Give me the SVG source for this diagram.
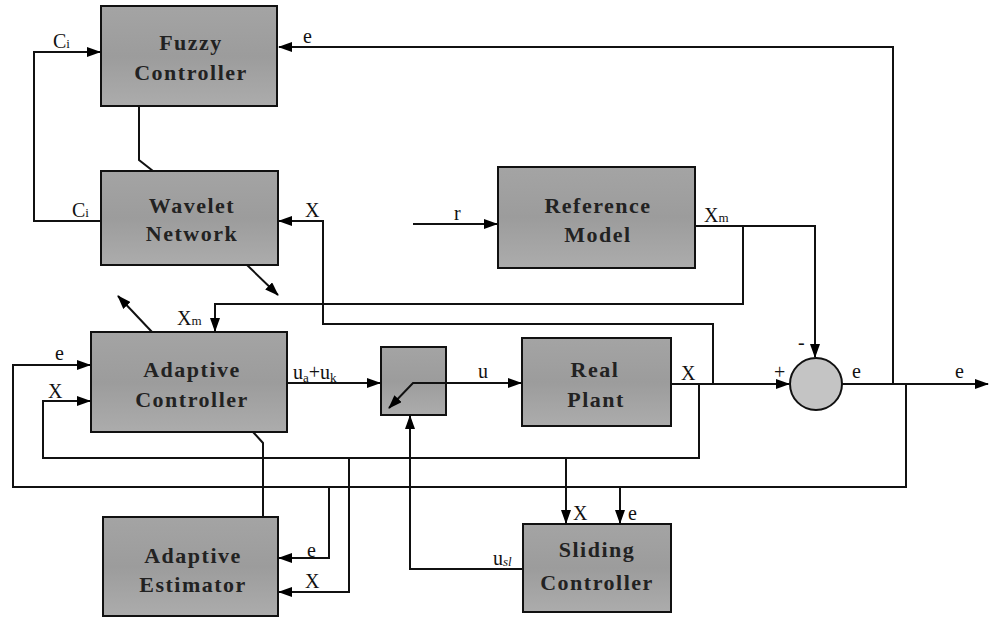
<svg xmlns="http://www.w3.org/2000/svg" width="989" height="619" viewBox="0 0 989 619">
<defs>
<marker id="arr" markerUnits="userSpaceOnUse" markerWidth="14" markerHeight="10" refX="13" refY="5" orient="auto">
<path d="M0,0 L14,5 L0,10 z" fill="#000"/>
</marker>
<linearGradient id="g" x1="0" y1="0" x2="0" y2="1">
<stop offset="0" stop-color="#a4a4a4"/>
<stop offset="0.5" stop-color="#9c9c9c"/>
<stop offset="1" stop-color="#acacac"/>
</linearGradient>
</defs>
<style>
.box{fill:url(#g);stroke:#111;stroke-width:2}
.lbl{font-family:"Liberation Serif","Times New Roman",serif;font-weight:bold;font-size:22px;letter-spacing:1.5px;fill:#222;text-anchor:middle}
.sm{font-family:"Liberation Serif","Times New Roman",serif;font-size:20px;fill:#111}
.sub{font-size:13px}
.c path{fill:none;stroke:#111;stroke-width:2}
</style>
<rect width="989" height="619" fill="#fff"/>

<g id="fuzzy">
<rect class="box" x="101" y="6" width="176" height="100"/>
<text class="lbl" x="191" y="50">Fuzzy</text>
<text class="lbl" x="191" y="80">Controller</text>
</g>
<g id="wavelet">
<rect class="box" x="101" y="171" width="177" height="94"/>
<text class="lbl" x="192" y="213">Wavelet</text>
<text class="lbl" x="192" y="241">Network</text>
</g>
<g id="reference">
<rect class="box" x="498" y="167" width="197" height="101"/>
<text class="lbl" x="598" y="213">Reference</text>
<text class="lbl" x="598" y="242">Model</text>
</g>
<g id="adaptive-controller">
<rect class="box" x="91" y="332" width="196" height="100"/>
<text class="lbl" x="192" y="377">Adaptive</text>
<text class="lbl" x="192" y="407">Controller</text>
</g>
<g id="switch">
<rect class="box" x="381" y="347" width="65" height="68"/>
</g>
<g id="plant">
<rect class="box" x="522" y="338" width="149" height="88"/>
<text class="lbl" x="595" y="377">Real</text>
<text class="lbl" x="596" y="407">Plant</text>
</g>
<g id="sum">
<circle cx="816" cy="384" r="26" fill="#c4c4c4" stroke="#111" stroke-width="2"/>
</g>
<g id="estimator">
<rect class="box" x="103" y="517" width="175" height="99"/>
<text class="lbl" x="193" y="563">Adaptive</text>
<text class="lbl" x="193" y="592">Estimator</text>
</g>
<g id="sliding">
<rect class="box" x="523" y="524" width="148" height="88"/>
<text class="lbl" x="597" y="557">Sliding</text>
<text class="lbl" x="597" y="590">Controller</text>
</g>

<g id="connectors" class="c">
<path d="M893,384 V47 H279" marker-end="url(#arr)"/>
<path d="M101,221 H34 V52 H100" marker-end="url(#arr)"/>
<path d="M139,106 V160 L153,171"/>
<path d="M247,265 L278,295" marker-end="url(#arr)"/>
<path d="M152,332 L118,296" marker-end="url(#arr)"/>
<path d="M713,384 V324 H323 V221 H279" marker-end="url(#arr)"/>
<path d="M695,226 H815 V357" marker-end="url(#arr)"/>
<path d="M743,226 V304 H215 V331" marker-end="url(#arr)"/>
<path d="M413,224 H497" marker-end="url(#arr)"/>
<path d="M287,383 H380" marker-end="url(#arr)"/>
<path d="M446,383 H413 L389,408" marker-end="url(#arr)"/>
<path d="M446,383 H521" marker-end="url(#arr)"/>
<path d="M671,384 H789" marker-end="url(#arr)"/>
<path d="M842,384 H988" marker-end="url(#arr)"/>
<path d="M906,384 V487 H13 V365 H90" marker-end="url(#arr)"/>
<path d="M699,384 V458 H43 V401 H90" marker-end="url(#arr)"/>
<path d="M253,432 L263,443 V517"/>
<path d="M329,487 V558 H279" marker-end="url(#arr)"/>
<path d="M349,458 V592 H279" marker-end="url(#arr)"/>
<path d="M566,458 V523" marker-end="url(#arr)"/>
<path d="M620,487 V523" marker-end="url(#arr)"/>
<path d="M523,569 H410 V416" marker-end="url(#arr)"/>
</g>

<g id="labels">
<text class="sm" x="53" y="48">C<tspan class="sub">i</tspan></text>
<text class="sm" x="72" y="217">C<tspan class="sub">i</tspan></text>
<text class="sm" x="303" y="43">e</text>
<text class="sm" x="305" y="217">X</text>
<text class="sm" x="177" y="325">X<tspan class="sub">m</tspan></text>
<text class="sm" x="55" y="360">e</text>
<text class="sm" x="48" y="398">X</text>
<text class="sm" x="293" y="379">u<tspan class="sub" dy="3">a</tspan><tspan dy="-3">+</tspan>u<tspan class="sub" dy="3">k</tspan></text>
<text class="sm" x="307" y="557">e</text>
<text class="sm" x="305" y="588">X</text>
<text class="sm" x="454" y="220">r</text>
<text class="sm" x="478" y="378">u</text>
<text class="sm" x="704" y="222">X<tspan class="sub">m</tspan></text>
<text class="sm" x="681" y="380">X</text>
<text class="sm" x="774" y="379">+</text>
<text class="sm" x="798" y="349">-</text>
<text class="sm" x="852" y="378">e</text>
<text class="sm" x="955" y="378">e</text>
<text class="sm" x="573" y="520">X</text>
<text class="sm" x="628" y="520">e</text>
<text class="sm" x="493" y="565">u<tspan class="sub" font-style="italic" dy="1">sl</tspan></text>
</g>
</svg>
